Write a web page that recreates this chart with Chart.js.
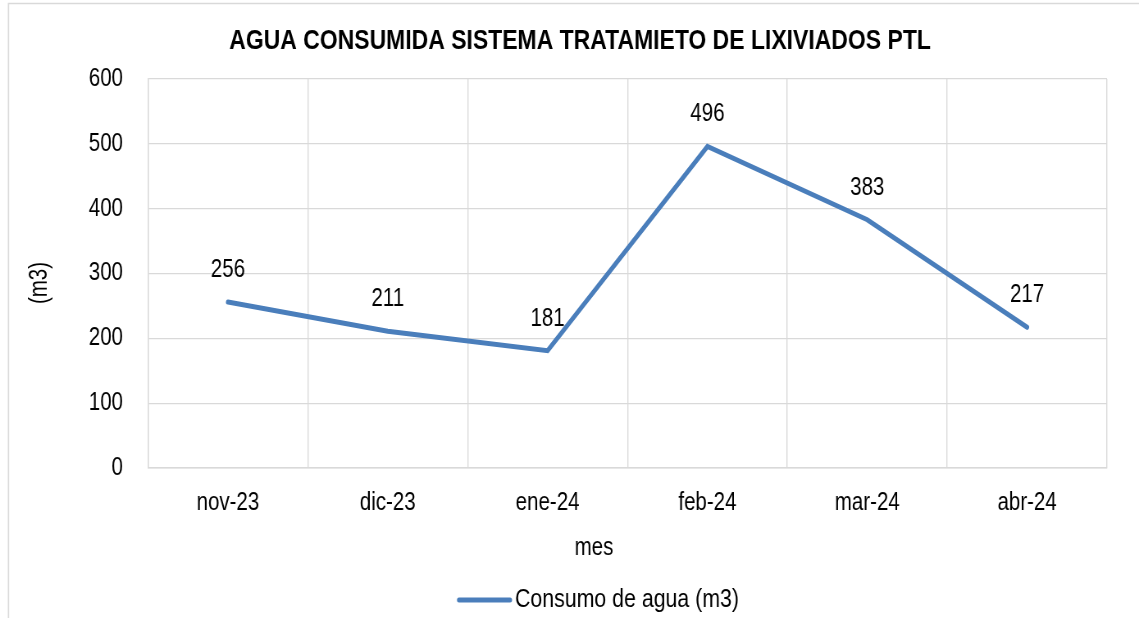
<!DOCTYPE html>
<html>
<head>
<meta charset="utf-8">
<script src="https://cdn.jsdelivr.net/npm/chart.js@4.4.1/dist/chart.umd.min.js"></script>
<style>
html,body{margin:0;padding:0;background:#fff;overflow:hidden;}
#wrap{width:1139px;height:618px;position:relative;}
</style>
</head>
<body>
<div id="wrap"><canvas id="c" width="1389" height="618" style="width:1139px;height:618px;display:block"></canvas></div>
<script>
const categories = ["nov-23", "dic-23", "ene-24", "feb-24", "mar-24", "abr-24"];
const consumo = [256, 211, 181, 496, 383, 217];
const yTicks = [0, 100, 200, 300, 400, 500, 600];
const chartTitle = "AGUA CONSUMIDA SISTEMA TRATAMIETO DE LIXIVIADOS PTL";
const seriesName = "Consumo de agua (m3)";
const xTitle = "mes";
const yTitle = "(m3)";

// The reference uses a narrow face (Arial Narrow); emulate it by drawing on a
// wider canvas that is displayed horizontally compressed.
const SX = 0.82;
const X = v => v / SX;   // screen x -> canvas x
const FONT = '"Liberation Sans", Arial, sans-serif';
const LINE = '#4A7EBB';
const GRID = '#D9D9D9';

const decor = {
  id: 'decor',
  beforeDraw(chart) {
    const ctx = chart.ctx;
    ctx.save();
    ctx.strokeStyle = '#D9D9D9';
    ctx.lineWidth = 1.6;
    ctx.beginPath();
    ctx.moveTo(X(8.5), 640);
    ctx.lineTo(X(8.5), 3.5);
    ctx.lineTo(X(1145), 3.5);
    ctx.stroke();
    ctx.restore();
  },
  afterDraw(chart) {
    const ctx = chart.ctx;
    ctx.save();
    ctx.fillStyle = '#000';
    ctx.textAlign = 'center';
    ctx.textBaseline = 'middle';
    ctx.font = 'bold 28px ' + FONT;
    ctx.fillText(chartTitle, X(580), 41);
    ctx.font = '25px ' + FONT;
    ctx.fillText(xTitle, X(594), 548);
    ctx.save();
    ctx.translate(X(40), 283);
    ctx.rotate(-Math.PI / 2);
    ctx.scale(SX, 1 / SX);
    ctx.fillText(yTitle, 0, 0);
    ctx.restore();
    // legend
    ctx.strokeStyle = LINE;
    ctx.lineWidth = 5;
    ctx.lineCap = 'round';
    ctx.beginPath();
    ctx.moveTo(X(459), 600);
    ctx.lineTo(X(510), 600);
    ctx.stroke();
    ctx.textAlign = 'left';
    ctx.font = '26px ' + FONT;
    ctx.fillText(seriesName, X(515), 600);
    // data labels
    ctx.font = '25px ' + FONT;
    const meta = chart.getDatasetMeta(0);
    ctx.textAlign = 'center';
    meta.data.forEach((pt, i) => {
      ctx.fillText(String(consumo[i]), pt.x, pt.y - 32);
    });
    ctx.restore();
  }
};

new Chart(document.getElementById('c'), {
  type: 'line',
  data: {
    labels: categories,
    datasets: [{
      label: seriesName,
      data: consumo,
      borderColor: LINE,
      backgroundColor: LINE,
      borderWidth: 5,
      borderCapStyle: 'round',
      borderJoinStyle: 'miter',
      pointRadius: 0,
      pointHoverRadius: 0,
      tension: 0,
      fill: false
    }]
  },
  options: {
    responsive: false,
    animation: false,
    devicePixelRatio: 1,
    events: [],
    layout: { padding: { left: X(80), right: X(1139) - X(1107), top: 79, bottom: 90 } },
    plugins: { legend: { display: false }, title: { display: false }, tooltip: { enabled: false } },
    scales: {
      x: {
        type: 'category',
        offset: true,
        grid: { offset: true, color: GRID, lineWidth: 1.4, drawTicks: false },
        border: { color: GRID, width: 1.4 },
        ticks: { color: '#000', font: { family: FONT, size: 25 }, padding: 20, maxRotation: 0, autoSkip: false },
        afterFit(s) { s.height = 60; }
      },
      y: {
        min: 0, max: 600,
        afterBuildTicks(s) { s.ticks = yTicks.map(v => ({ value: v })); },
        grid: { color: GRID, lineWidth: 1.2, drawTicks: false },
        border: { color: GRID, width: 1.4 },
        ticks: { color: '#000', font: { family: FONT, size: 25 }, padding: X(25) },
        afterFit(s) { s.width = X(148) - X(80); }
      }
    }
  },
  plugins: [decor]
});
</script>
</body>
</html>
